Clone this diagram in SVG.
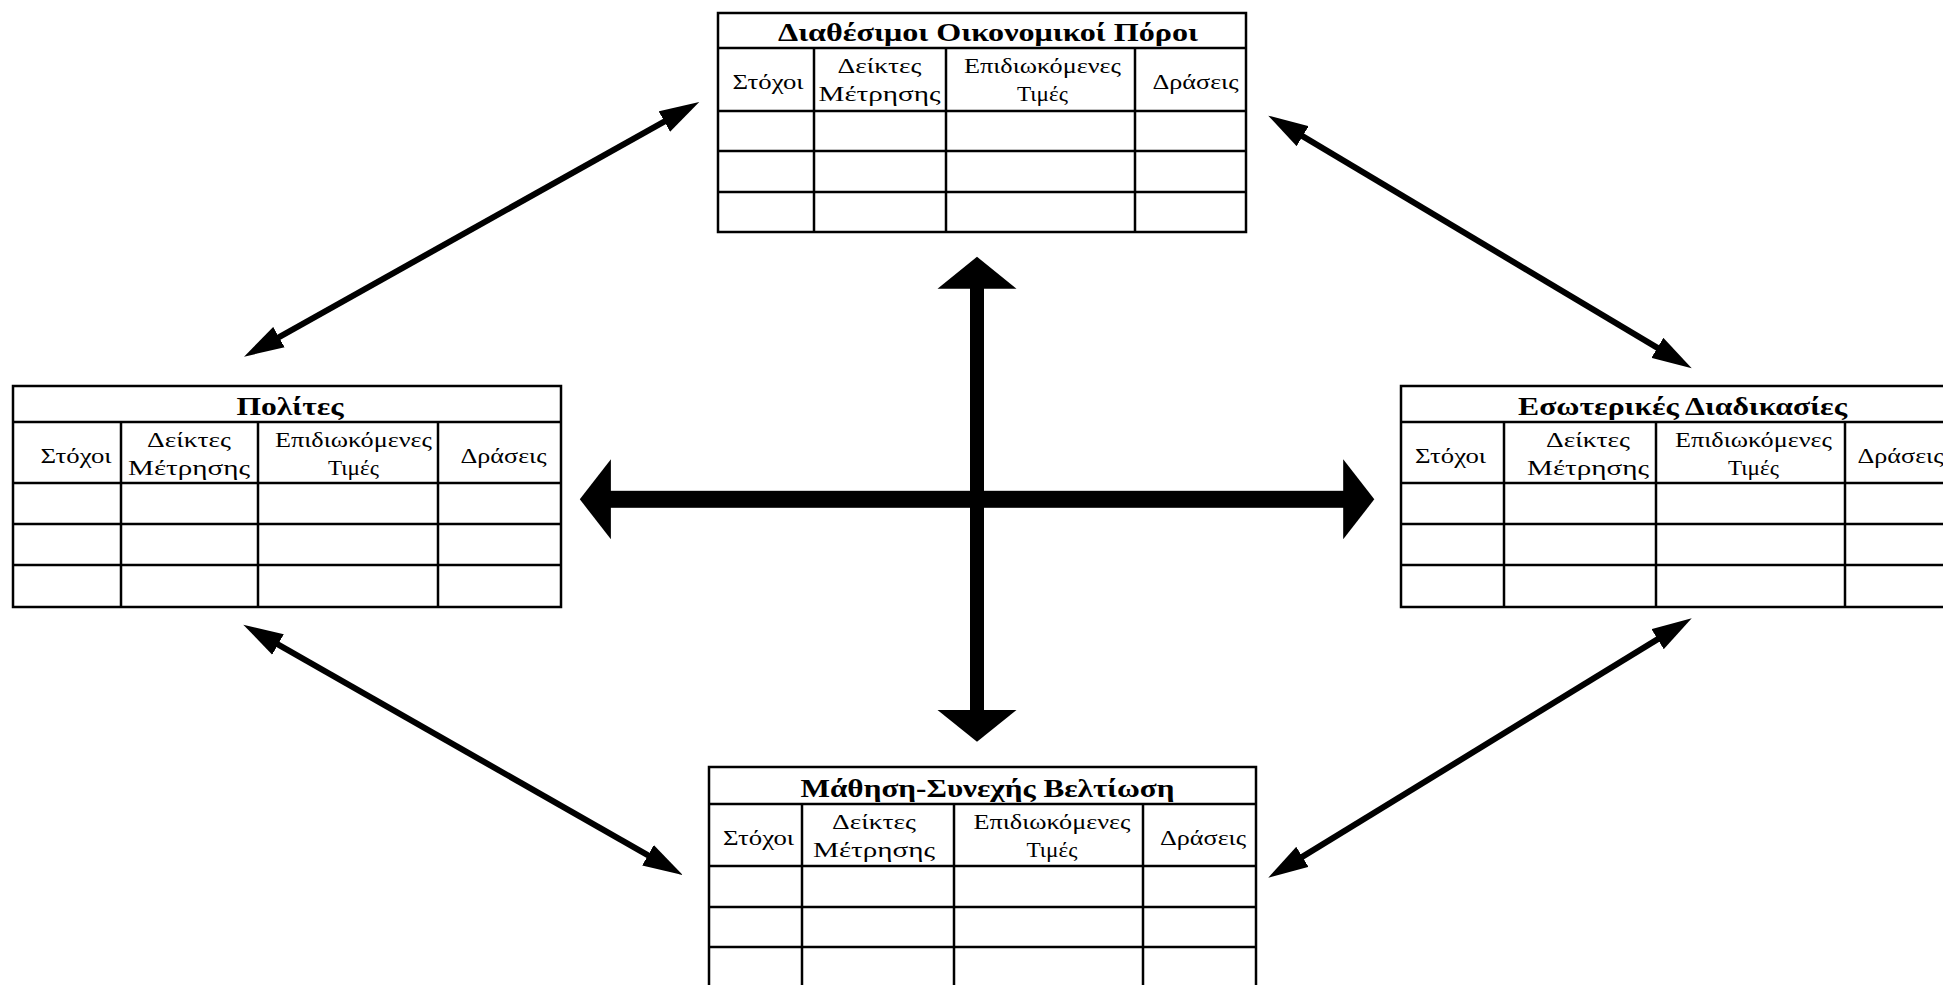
<svg xmlns="http://www.w3.org/2000/svg" width="1943" height="985" viewBox="0 0 1943 985">
<style>
.grid{fill:none;stroke:#000;stroke-width:2.5}
.h{font-family:"Liberation Serif","Times New Roman",serif;font-size:22px;text-anchor:middle;fill:#000}
.t{font-family:"Liberation Serif","Times New Roman",serif;font-size:26px;font-weight:bold;text-anchor:middle;fill:#000}
.conn{stroke:#000;stroke-width:6;fill:none}
.big{fill:#000;stroke:none}
</style>
<defs>
<marker id="ah" viewBox="0 0 40 24" markerWidth="40" markerHeight="24" refX="28" refY="12" markerUnits="userSpaceOnUse" orient="auto-start-reverse">
<path d="M0,0.3 L40,12 L0,23.7 z" fill="#000"/>
</marker>
</defs>
<rect x="0" y="0" width="1943" height="985" fill="#fff"/>

<g id="connectors">
<line class="conn" x1="254.5" y1="350.8" x2="688.8" y2="107.9" marker-start="url(#ah)" marker-end="url(#ah)"/>
<line class="conn" x1="1278.6" y1="121.8" x2="1681.4" y2="362.2" marker-start="url(#ah)" marker-end="url(#ah)"/>
<line class="conn" x1="253.7" y1="630.6" x2="672.3" y2="869.1" marker-start="url(#ah)" marker-end="url(#ah)"/>
<line class="conn" x1="1278.5" y1="871.4" x2="1681.5" y2="624.6" marker-start="url(#ah)" marker-end="url(#ah)"/>
<g id="cross">
<rect class="big" x="970" y="285" width="14" height="430"/>
<polygon class="big" points="977,256.7 1016.5,288.7 937.5,288.7"/>
<polygon class="big" points="977,741.7 1016.5,710 937.5,710"/>
<rect class="big" x="605" y="490.8" width="745" height="17"/>
<polygon class="big" points="579.8,499.3 610.9,459.3 610.9,539.3"/>
<polygon class="big" points="1374.3,499.3 1343.2,459.3 1343.2,539.3"/>
</g>
</g>

<g id="node-top">
<rect class="grid" x="718" y="13" width="528" height="219"/>
<path class="grid" d="M718,48H1246M718,111H1246M718,151H1246M718,192H1246M814,48V232M946,48V232M1135,48V232"/>
<text class="t" x="988" y="41" textLength="420" lengthAdjust="spacingAndGlyphs">Διαθέσιμοι Οικονομικοί Πόροι</text>
<text class="h" x="768" y="89" textLength="71" lengthAdjust="spacingAndGlyphs">Στόχοι</text>
<text class="h" x="879.5" y="73" textLength="84" lengthAdjust="spacingAndGlyphs">Δείκτες</text>
<text class="h" x="879.5" y="101" textLength="122" lengthAdjust="spacingAndGlyphs">Μέτρησης</text>
<text class="h" x="1042.5" y="73" textLength="157" lengthAdjust="spacingAndGlyphs">Επιδιωκόμενες</text>
<text class="h" x="1042.5" y="101" textLength="51" lengthAdjust="spacingAndGlyphs">Τιμές</text>
<text class="h" x="1195.5" y="89" textLength="86" lengthAdjust="spacingAndGlyphs">Δράσεις</text>
</g>

<g id="node-left">
<rect class="grid" x="13" y="386" width="548" height="221"/>
<path class="grid" d="M13,422H561M13,483H561M13,524H561M13,565H561M121,422V607M258,422V607M438,422V607"/>
<text class="t" x="290" y="415" textLength="107" lengthAdjust="spacingAndGlyphs">Πολίτες</text>
<text class="h" x="76" y="463" textLength="71" lengthAdjust="spacingAndGlyphs">Στόχοι</text>
<text class="h" x="189" y="447" textLength="84" lengthAdjust="spacingAndGlyphs">Δείκτες</text>
<text class="h" x="189" y="475" textLength="122" lengthAdjust="spacingAndGlyphs">Μέτρησης</text>
<text class="h" x="353.5" y="447" textLength="157" lengthAdjust="spacingAndGlyphs">Επιδιωκόμενες</text>
<text class="h" x="353.5" y="475" textLength="51" lengthAdjust="spacingAndGlyphs">Τιμές</text>
<text class="h" x="503.5" y="463" textLength="86" lengthAdjust="spacingAndGlyphs">Δράσεις</text>
</g>

<g id="node-right">
<rect class="grid" x="1401" y="386" width="551" height="221"/>
<path class="grid" d="M1401,422H1952M1401,483H1952M1401,524H1952M1401,565H1952M1504,422V607M1656,422V607M1845,422V607"/>
<text class="t" x="1682.5" y="415" textLength="329" lengthAdjust="spacingAndGlyphs">Εσωτερικές Διαδικασίες</text>
<text class="h" x="1450.5" y="463" textLength="71" lengthAdjust="spacingAndGlyphs">Στόχοι</text>
<text class="h" x="1588" y="447" textLength="84" lengthAdjust="spacingAndGlyphs">Δείκτες</text>
<text class="h" x="1588" y="475" textLength="122" lengthAdjust="spacingAndGlyphs">Μέτρησης</text>
<text class="h" x="1753.5" y="447" textLength="157" lengthAdjust="spacingAndGlyphs">Επιδιωκόμενες</text>
<text class="h" x="1753.5" y="475" textLength="51" lengthAdjust="spacingAndGlyphs">Τιμές</text>
<text class="h" x="1900.5" y="463" textLength="86" lengthAdjust="spacingAndGlyphs">Δράσεις</text>
</g>

<g id="node-bottom">
<rect class="grid" x="709" y="767" width="547" height="225"/>
<path class="grid" d="M709,804H1256M709,866H1256M709,907H1256M709,947H1256M802,804V992M954,804V992M1143,804V992"/>
<text class="t" x="987.5" y="797" textLength="374" lengthAdjust="spacingAndGlyphs">Μάθηση-Συνεχής Βελτίωση</text>
<text class="h" x="758.5" y="845" textLength="71" lengthAdjust="spacingAndGlyphs">Στόχοι</text>
<text class="h" x="874" y="829" textLength="84" lengthAdjust="spacingAndGlyphs">Δείκτες</text>
<text class="h" x="874" y="857" textLength="122" lengthAdjust="spacingAndGlyphs">Μέτρησης</text>
<text class="h" x="1052" y="829" textLength="157" lengthAdjust="spacingAndGlyphs">Επιδιωκόμενες</text>
<text class="h" x="1052" y="857" textLength="51" lengthAdjust="spacingAndGlyphs">Τιμές</text>
<text class="h" x="1203" y="845" textLength="86" lengthAdjust="spacingAndGlyphs">Δράσεις</text>
</g>
</svg>
